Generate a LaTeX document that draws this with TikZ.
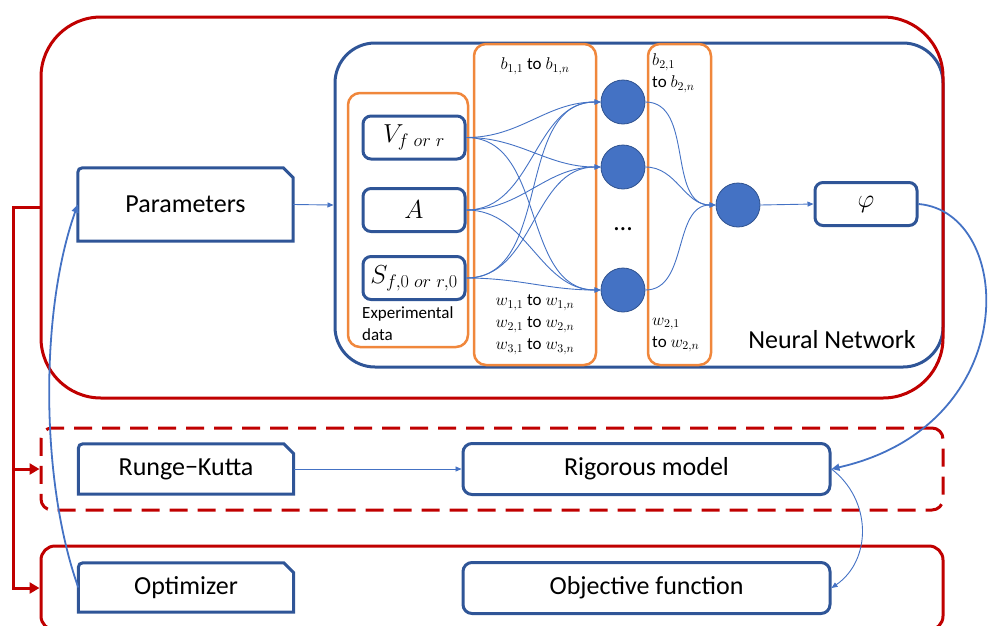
\RequirePackage{fix-cm}
\documentclass[tikz,border=0pt]{standalone}
\usepackage[no-math]{fontspec}
\setmainfont{Carlito}
\usepackage{tikz}
\usetikzlibrary{arrows.meta,positioning,calc}

\definecolor{nnred}{RGB}{192,0,0}
\definecolor{boxblue}{RGB}{47,85,151}
\definecolor{wireblue}{RGB}{68,114,196}
\definecolor{nnorange}{RGB}{240,135,60}
\definecolor{neurongrey}{RGB}{47,82,143}

\begin{document}
\begin{tikzpicture}[
    x=1pt, y=-1pt,
    font=\fontsize{26}{30}\selectfont,
    redframe/.style={draw=nnred, line width=3pt, inner sep=0pt},
    nnframe/.style={draw=boxblue, line width=3pt, rounded corners=40pt, inner sep=0pt},
    layerbox/.style={draw=nnorange, line width=2.5pt, rounded corners=12pt, inner sep=0pt},
    inbox/.style={draw=boxblue, line width=3pt, rounded corners=8pt, inner sep=0pt,
                  minimum width=102pt, minimum height=43pt},
    modelbox/.style={draw=boxblue, line width=3pt, rounded corners=9pt, inner sep=0pt,
                     minimum width=367pt, minimum height=51pt},
    snipbox/.style={inner sep=0pt, minimum width=215pt},
    snipline/.style={draw=boxblue, line width=3pt},
    neuron/.style={circle, fill=wireblue, draw=neurongrey, line width=0.8pt,
                   minimum size=44pt, inner sep=0pt},
    small/.style={font=\fontsize{17}{22}\selectfont, inner sep=0pt},
    wire/.style={-{Triangle[length=6pt,width=5pt]}, wireblue, line width=0.9pt},
    link/.style={-{Triangle[length=8pt,width=7pt]}, wireblue, line width=1.8pt},
    feed/.style={-{Triangle[length=10pt,width=11pt]}, nnred, line width=3pt}
  ]
  \useasboundingbox (0,0) rectangle (990,625);

  % --- neural network block ---
  \node[nnframe, minimum width=608pt, minimum height=324pt] (nn) at (639,205) {};
  \node[redframe, rounded corners=60pt, minimum width=902pt, minimum height=381pt]
       (nnbox) at (492,207.5) {};

  \node[layerbox, minimum width=120pt, minimum height=254pt] (expdata) at (408,220) {};
  \node[layerbox, minimum width=122pt, minimum height=321pt] (lay1) at (535,204.5) {};
  \node[layerbox, minimum width=63pt, minimum height=321pt] (lay2) at (679.5,204.5) {};

  \node[inbox] (vin) at (414,137.5) {$V_{f\;or\;r}$};
  \node[inbox] (ain) at (414,210) {$A$};
  \node[inbox] (sin) at (414,278) {$S_{f,0\;or\;r,0}$};
  \node[small, anchor=north west, align=left] (explab) at (362,306) {Experimental\\data};

  \node[small] (blab1) at (535,66) {$b_{1,1}$ to $b_{1,n}$};
  \node[small, align=center] (wlab1) at (535,325)
       {$w_{1,1}$ to $w_{1,n}$\\$w_{2,1}$ to $w_{2,n}$\\$w_{3,1}$ to $w_{3,n}$};
  \node[small, anchor=west, align=left] (blab2) at (652,73) {$b_{2,1}$\\to $b_{2,n}$};
  \node[small, anchor=west, align=left] (wlab2) at (652,335) {$w_{2,1}$\\to $w_{2,n}$};

  \node[neuron] (h1) at (623,102) {};
  \node[neuron] (h2) at (623,167) {};
  \node[neuron] (h3) at (623,290) {};
  \node (hdots) at (623,229) {…};
  \node[neuron] (out) at (738,205) {};
  \node[inbox] (phi) at (866,204) {$\varphi$};
  \node (nnlab) at (832,340) {Neural Network};

  % --- solver and fitting rows ---
  \node[redframe, dashed, dash pattern=on 18pt off 10pt, rounded corners=11pt,
        minimum width=902pt, minimum height=82pt] (solver) at (492,469) {};
  \node[redframe, rounded corners=14pt, minimum width=902pt, minimum height=84pt]
       (fitting) at (492,588) {};

  \node[snipbox, minimum height=73pt] (param) at (185.5,204.5) {Parameters};
  \node[snipbox, minimum height=50pt] (rk) at (186,469) {Runge−Kutta};
  \node[snipbox, minimum height=49pt] (opt) at (186,587.5) {Optimizer};
  \foreach \b in {param,rk,opt}
    \draw[snipline] (\b.south west) -- ([yshift=-10pt]\b.north west)
      .. controls (\b.north west) .. ([xshift=10pt]\b.north west)
      -- ([xshift=-10pt]\b.north east) -- ([yshift=-10pt]\b.north east)
      -- (\b.south east) -- cycle;

  \node[modelbox] (rig) at (646.5,469) {Rigorous model};
  \node[modelbox] (obj) at (646.5,588) {Objective function};

  % network wiring
  \foreach \i in {vin,ain,sin}
    \foreach \h in {h1,h2,h3}
      \draw[wire] (\i.east) to[out=0, in=180] (\h.west);
  \foreach \h in {h1,h2,h3}
    \draw[wire] (\h.east) to[out=0, in=180] (out.west);
  \draw[wire] (out.east) -- (phi.west);
  \draw[wire] (param.east) -- (nn.west);

  % model chain
  \draw[wire] (rk.east) -- (rig.west);
  \draw[link] (phi.east) .. controls (1015,212) and (1025,425) .. (rig.east);
  \draw[wire] (rig.east) .. controls (872,500) and (872,560) .. (obj.east);
  \draw[link] (opt.west) .. controls (40,480) and (40,310) .. (param.west);

  % red feed to the lower rows
  \coordinate (rail) at ($(nnbox.west)+(-26,0)$);
  \draw[feed] (nnbox.west) -- (rail) |- (fitting.west);
  \draw[feed] (rail |- solver.west) -- (solver.west);

\end{tikzpicture}
\end{document}
